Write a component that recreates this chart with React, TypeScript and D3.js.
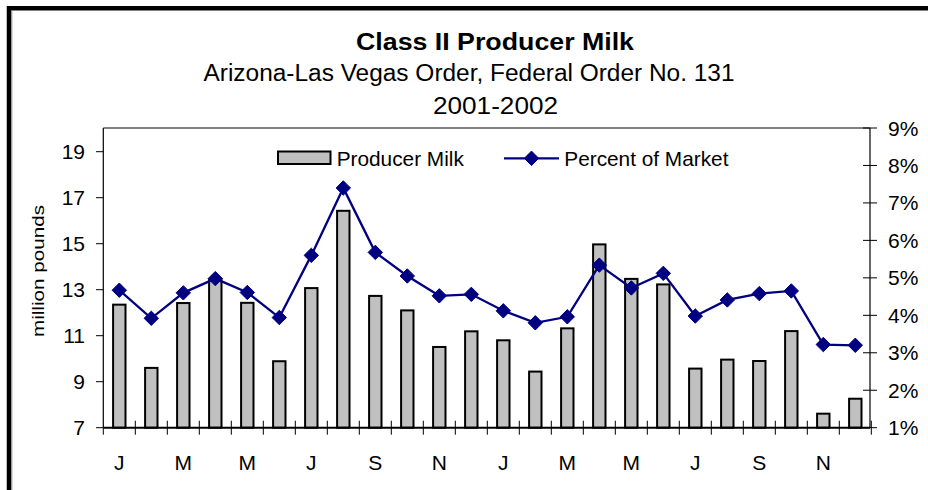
import React from "react";
import * as d3 from "d3";

const monthLetters = ["J","F","M","A","M","J","J","A","S","O","N","D","J","F","M","A","M","J","J","A","S","O","N","D"];
const producerMilk = [12.35, 9.6, 12.42, 13.45, 12.43, 9.89, 13.07, 16.43, 12.73, 12.1, 10.51, 11.19, 10.8, 9.44, 11.32, 14.97, 13.47, 13.23, 9.57, 9.96, 9.9, 11.2, 7.61, 8.26];
const percentOfMarket = [4.67, 3.92, 4.6, 4.98, 4.61, 3.94, 5.6, 7.4, 5.68, 5.05, 4.52, 4.56, 4.12, 3.8, 3.96, 5.34, 4.73, 5.12, 3.98, 4.41, 4.58, 4.65, 3.22, 3.2];
const leftTicks = [7, 9, 11, 13, 15, 17, 19];
const rightTicks = [1, 2, 3, 4, 5, 6, 7, 8, 9];

const FONT = "'Liberation Sans', Arial, sans-serif";
const NAVY = "#000080";

export default function App() {
  const W = 928, H = 490;
  const left = 103.3, right = 871.3, top = 128, bottom = 427.7;
  const idx = monthLetters.map((_, i) => i);
  const x = d3.scaleBand<number>().domain(idx).range([left, right]).padding(0);
  const yL = d3.scaleLinear().domain([7, 20]).range([bottom, bottom - 23 * 13]);
  const yR = d3.scaleLinear().domain([1, 9]).range([bottom, top]);
  const bw = x.bandwidth();
  const barW = 12.4;
  const axisX = 870;

  const line = d3.line<number>()
    .x((_, i) => (x(i) as number) + bw / 2)
    .y((d) => yR(d));

  const diamond = (cx: number, cy: number, r = 7.2) =>
    `M${cx},${cy - r}L${cx + r},${cy}L${cx},${cy + r}L${cx - r},${cy}Z`;

  const boundaries = d3.range(monthLetters.length + 1).map((i) => left + i * bw);

  return (
    <svg width={W} height={H} style={{ position: "fixed", left: 0, top: 0, background: "#fff" }} fontFamily={FONT}>
      <rect x={0} y={0} width={W} height={H} fill="#fff" />
      {/* outer frame */}
      <rect x={9} y={8.25} width={1200} height={1200} fill="none" stroke="#000" strokeWidth={4.5} />
      <line x1={11.8} x2={11.8} y1={10.5} y2={H} stroke="#888" strokeWidth={1} />

      {/* titles */}
      <text x={356} y={49.5} fontSize={23} fontWeight="bold" textLength={278} lengthAdjust="spacingAndGlyphs">Class II Producer Milk</text>
      <text x={203.5} y={81} fontSize={23} textLength={531} lengthAdjust="spacingAndGlyphs">Arizona-Las Vegas Order, Federal Order No. 131</text>
      <text x={433} y={114} fontSize={23} textLength={125} lengthAdjust="spacingAndGlyphs">2001-2002</text>

      {/* plot frame */}
      <line x1={left} x2={axisX} y1={top} y2={top} stroke="#000" strokeWidth={1.2} />
      <line x1={left} x2={left} y1={top} y2={bottom} stroke="#000" strokeWidth={1.2} />

      {/* bars */}
      {producerMilk.map((v, i) => (
        <rect key={i} x={(x(i) as number) + bw / 2 - barW / 2} y={yL(v)} width={barW} height={bottom - yL(v)}
          fill="#C0C0C0" stroke="#000" strokeWidth={2} />
      ))}

      {/* x axis */}
      <line x1={left} x2={axisX} y1={bottom} y2={bottom} stroke="#000" strokeWidth={2} />
      {boundaries.map((b, i) => (
        <line key={i} x1={b} x2={b} y1={i === 0 ? bottom : bottom - 7} y2={bottom + 7} stroke="#000" strokeWidth={1} />
      ))}
      {monthLetters.map((m, i) => i % 2 === 0 ? (
        <text key={i} x={(x(i) as number) + bw / 2} y={470} fontSize={21} textAnchor="middle">{m}</text>
      ) : null)}

      {/* left axis ticks */}
      {leftTicks.map((t) => (
        <g key={t}>
          <line x1={96} x2={left} y1={yL(t)} y2={yL(t)} stroke="#000" strokeWidth={1} />
          <text x={85} y={yL(t) + 7.5} fontSize={21} textAnchor="end">{t}</text>
        </g>
      ))}
      <text transform={`translate(43.5,271) rotate(-90)`} fontSize={17} textAnchor="middle" textLength={132} lengthAdjust="spacingAndGlyphs">million pounds</text>

      {/* right axis */}
      <line x1={axisX} x2={axisX} y1={top} y2={bottom} stroke="#000" strokeWidth={1.2} />
      {rightTicks.map((t) => (
        <g key={t}>
          <line x1={axisX - 7} x2={axisX + 7} y1={yR(t)} y2={yR(t)} stroke="#000" strokeWidth={1} />
          <text x={888} y={yR(t) + 7.5} fontSize={21}>{t}%</text>
        </g>
      ))}

      {/* line series */}
      <path d={line(percentOfMarket) || ""} fill="none" stroke={NAVY} strokeWidth={2.3} />
      {percentOfMarket.map((v, i) => (
        <path key={i} d={diamond((x(i) as number) + bw / 2, yR(v))} fill={NAVY} stroke={NAVY} strokeWidth={1} />
      ))}

      {/* legend */}
      <rect x={278} y={151.5} width={52.5} height={12.5} fill="#C0C0C0" stroke="#000" strokeWidth={2} />
      <text x={336.7} y={165.5} fontSize={20.8}>Producer Milk</text>
      <line x1={504} x2={559} y1={158.3} y2={158.3} stroke={NAVY} strokeWidth={2.3} />
      <path d={diamond(531.5, 158.3)} fill={NAVY} stroke={NAVY} strokeWidth={1} />
      <text x={564.3} y={165.5} fontSize={20.8}>Percent of Market</text>
    </svg>
  );
}
